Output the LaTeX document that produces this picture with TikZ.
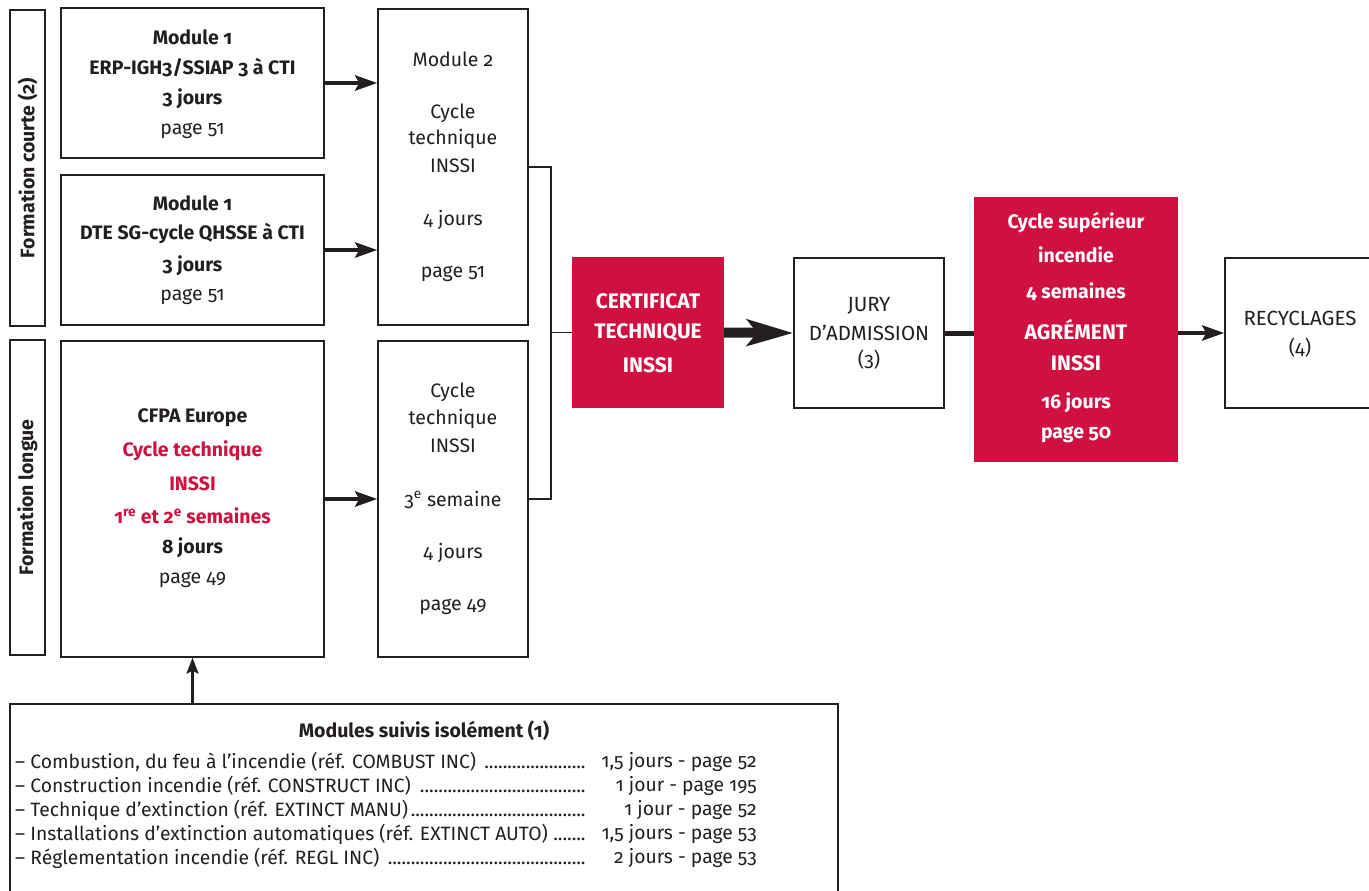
\documentclass[tikz,border=0pt]{standalone}
\usepackage{fontspec}
\setmainfont{Fira Sans}[Numbers=OldStyle]
\usetikzlibrary{arrows.meta}
\definecolor{rouge}{RGB}{207,16,64}
\definecolor{ink}{RGB}{35,31,32}
\newcommand{\dleaders}{\leaders\hbox to 4.6pt{\hss.\hss}\hfill}
\begin{document}
\begin{tikzpicture}[x=1pt,y=-1pt,
  box/.style={draw=ink, line width=1.4pt, fill=white, inner sep=0pt},
  redbox/.style={fill=rouge, draw=none, inner sep=0pt},
  txt/.style={inner sep=0pt, text=ink, font=\fontsize{19.5}{22}\selectfont},
  ctxt/.style={txt, font=\fontsize{20.5}{22}\selectfont},
  btxt/.style={txt, font=\fontsize{19.5}{22}\selectfont\bfseries},
  cbtxt/.style={txt, font=\fontsize{21}{22}\selectfont\bfseries},
  wtxt/.style={btxt, text=white},
  cwtxt/.style={cbtxt, text=white},
  rtxt/.style={btxt, text=rouge},
  ltxt/.style={inner sep=0pt, text=ink, font=\fontsize{19.3}{22}\selectfont},
  arr/.style={draw=ink, line width=4.5pt, -{Stealth[length=22pt,width=15pt,inset=4pt]}},
  bigarr/.style={draw=ink, line width=10pt, -{Stealth[length=46pt,width=26pt,inset=10pt]}},
  thin/.style={draw=ink, line width=1.6pt}
]
\useasboundingbox (0,0) rectangle (1369,891);

% side labels
\node[box, minimum width=35pt, minimum height=316pt] (fc) at (27.5,168) {};
\node[btxt, rotate=90] (fct) at (fc.center) {Formation courte (2)};
\node[box, minimum width=35pt, minimum height=315pt] (fl) at (27.5,497.5) {};
\node[btxt, rotate=90] (flt) at (fl.center) {Formation longue};

% module 1 A
\node[box, minimum width=263pt, minimum height=150pt] (ma) at (192.5,83) {};
\node[btxt] (ma1) at (192.5,37) {Module 1};
\node[btxt] (ma2) at (192.5,68) {ERP-IGH3/SSIAP 3 à CTI};
\node[btxt] (ma3) at (192.5,99) {3 jours};
\node[txt] (ma4) at (192.5,131) {page 51};

% module 1 B
\node[box, minimum width=263pt, minimum height=150pt] (mb) at (192.5,250) {};
\node[btxt] (mb1) at (192.5,203) {Module 1};
\node[btxt] (mb2) at (192.5,234) {DTE SG-cycle QHSSE à CTI};
\node[btxt] (mb3) at (192.5,266) {3 jours};
\node[txt] (mb4) at (192.5,297) {page 51};

% CFPA
\node[box, minimum width=263pt, minimum height=316pt] (cf) at (192.5,499) {};
\node[btxt] (cf1) at (192.5,418) {CFPA Europe};
\node[rtxt] (cf2) at (192.5,451) {Cycle technique};
\node[rtxt] (cf3) at (192.5,484) {INSSI};
\node[rtxt] (cf4) at (192.5,516) {1\textsuperscript{re} et 2\textsuperscript{e} semaines};
\node[btxt] (cf5) at (192.5,548) {8 jours};
\node[txt] (cf6) at (192.5,580) {page 49};

% module 2
\node[box, minimum width=150pt, minimum height=316pt] (m2) at (453,167) {};
\node[txt] (m21) at (453,59) {Module 2};
\node[txt] (m22) at (453,113) {Cycle};
\node[txt] (m23) at (453,139) {technique};
\node[txt] (m24) at (453,166) {INSSI};
\node[txt] (m25) at (453,220) {4 jours};
\node[txt] (m26) at (453,274) {page 51};

% cycle technique
\node[box, minimum width=150pt, minimum height=316pt] (ct) at (453,499) {};
\node[txt] (ct1) at (453,392) {Cycle};
\node[txt] (ct2) at (453,419) {technique};
\node[txt] (ct3) at (453,446) {INSSI};
\node[txt] (ct4) at (453,500) {3\textsuperscript{e} semaine};
\node[txt] (ct5) at (453,553) {4 jours};
\node[txt] (ct6) at (453,607) {page 49};

% certificat
\node[redbox, minimum width=152pt, minimum height=151pt] (ce) at (648,332.5) {};
\node[cwtxt] (ce1) at (648,301) {CERTIFICAT};
\node[cwtxt] (ce2) at (648,333) {TECHNIQUE};
\node[cwtxt] (ce3) at (648,365) {INSSI};

% jury
\node[box, minimum width=150pt, minimum height=150pt] (ju) at (869,333) {};
\node[ctxt] (ju1) at (869,306) {JURY};
\node[ctxt] (ju2) at (869,333) {D’ADMISSION};
\node[txt] (ju3) at (869,360) {(3)};

% cycle superieur
\node[redbox, minimum width=204pt, minimum height=265pt] (cs) at (1076,329.5) {};
\node[wtxt] (cs1) at (1076,223) {Cycle supérieur};
\node[wtxt] (cs2) at (1076,255) {incendie};
\node[wtxt] (cs3) at (1076,292) {4 semaines};
\node[cwtxt] (cs4) at (1076,330) {AGRÉMENT};
\node[cwtxt] (cs5) at (1076,363) {INSSI};
\node[wtxt] (cs6) at (1076,403) {16 jours};
\node[wtxt] (cs7) at (1076,435) {page 50};

% recyclages
\node[box, minimum width=160pt, minimum height=150pt] (re) at (1305,333) {};
\node[ctxt] (re1) at (1300,318) {RECYCLAGES};
\node[txt] (re2) at (1300,348) {(4)};

% bottom box
\node[box, minimum width=828pt, minimum height=200pt] (bo) at (424,804) {};
\node[btxt] (bo0) at (424,731) {Modules suivis isolément (1)};
\foreach \i/\l/\r/\y in {
 1/{– Combustion, du feu à l’incendie (réf. COMBUST INC) }/{1,5 jours - page 52}/762,
 2/{– Construction incendie (réf. CONSTRUCT INC) }/{1 jour - page 195}/786,
 3/{– Technique d’extinction (réf. EXTINCT MANU)}/{1 jour - page 52}/810,
 4/{– Installations d’extinction automatiques (réf. EXTINCT AUTO) }/{1,5 jours - page 53}/834,
 5/{– Réglementation incendie (réf. REGL INC) }/{2 jours - page 53}/858}{
  \node[ltxt, anchor=west] (bl\i) at (15,\y) {\hbox to 575pt{\l\dleaders}};
  \node[ltxt, anchor=east] (br\i) at (757,\y) {\r};
}

% connectors
\draw[arr] (ma.east) -- (ma.east -| m2.west);
\draw[arr] (mb.east) -- (mb.east -| m2.west);
\draw[arr] (cf.east) -- (cf.east -| ct.west);
\draw[thin] (m2.east) -- ++(22,0) coordinate (b1) -- (b1 |- ct.east) -- (ct.east);
\draw[thin] (b1 |- ce.west) -- (ce.west);
\draw[bigarr] (ce.east) -- (ju.west);
\draw[draw=ink, line width=5pt] (ju.east) -- (ju.east -| cs.west);
\draw[arr] (re.west -| cs.east) -- (re.west);
\draw[draw=ink, line width=2.5pt, -{Stealth[length=16pt,width=12pt,inset=3pt]}] (bo.north -| cf.south) -- (cf.south);
\end{tikzpicture}
\end{document}
